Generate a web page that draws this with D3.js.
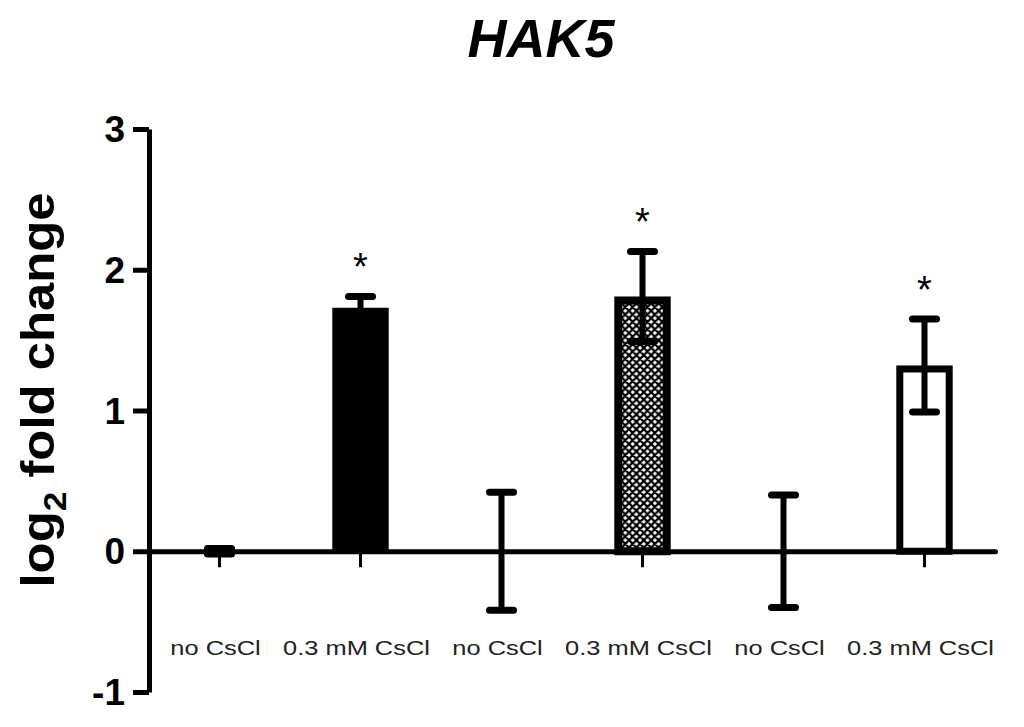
<!DOCTYPE html>
<html>
<head>
<meta charset="utf-8">
<script src="https://cdn.jsdelivr.net/npm/d3@7"></script>
<style>
  html, body { margin: 0; padding: 0; background: #fff; }
  svg { display: block; }
</style>
</head>
<body>
<svg id="chart" width="1024" height="727"></svg>
<script>
// ---- data ----
const categories = ["no CsCl", "0.3 mM CsCl", "no CsCl", "0.3 mM CsCl", "no CsCl", "0.3 mM CsCl"];
const means = [0, 1.73, 0, 1.81, 0, 1.32];
const sems = [0.02, 0.08, 0.42, 0.32, 0.40, 0.33];
const significant = [false, true, false, true, false, true];
const yTicks = [-1, 0, 1, 2, 3];
const titleText = "HAK5";

// ---- styles (separate from data) ----
const barStyles = ["none", "solid", "none", "hatch", "none", "open"];

const svg = d3.select("#chart");
const font = "Liberation Sans, Arial, sans-serif";

const x = d3.scaleBand().domain(d3.range(categories.length)).range([149, 995]).paddingInner(0.6).paddingOuter(0.3);
const y = d3.scaleLinear().domain([-1, 3]).range([692, 129]);

// hatch pattern
const defs = svg.append("defs");
const P = 7.4;
const pat = defs.append("pattern").attr("id", "hatch").attr("patternUnits", "userSpaceOnUse")
  .attr("width", P).attr("height", P);
pat.append("rect").attr("width", P).attr("height", P).attr("fill", "#fff");
pat.append("path")
  .attr("d", `M${-P},0 L0,${-P} M0,${P} L${P},0 M${P},${2*P} L${2*P},${P} M${-P},${P} L0,${2*P} M0,0 L${P},${P} M${P},${-P} L${2*P},0`)
  .attr("stroke", "#000").attr("stroke-width", 2.2);

// title
svg.append("text").attr("x", 541).attr("y", 57).attr("text-anchor", "middle")
  .attr("font-family", font).attr("font-weight", "bold").attr("font-style", "italic")
  .attr("font-size", 54).attr("fill", "#000").text(titleText);

// y axis label
const yl = svg.append("text").attr("transform", "translate(54,390) rotate(-90)")
  .attr("text-anchor", "middle").attr("font-family", font).attr("font-weight", "bold")
  .attr("font-size", 46).attr("fill", "#000")
  .attr("textLength", 395).attr("lengthAdjust", "spacingAndGlyphs");
yl.append("tspan").text("log");
yl.append("tspan").attr("font-size", 32).attr("dy", 12).text("2");
yl.append("tspan").attr("dy", -12).text(" fold change");

const bw = x.bandwidth();
const cx = i => x(i) + bw / 2;

// bars
categories.forEach((c, i) => {
  const st = barStyles[i];
  if (st === "none" || means[i] === 0) return;
  const top = y(means[i]), base = y(0);
  if (st === "solid") {
    svg.append("rect").attr("x", x(i)).attr("y", top).attr("width", bw).attr("height", base - top)
      .attr("fill", "#000");
  } else {
    const sw = st === "hatch" ? 8 : 7;
    svg.append("rect").attr("x", x(i) + sw / 2).attr("y", top + sw / 2)
      .attr("width", bw - sw).attr("height", base - top - sw / 2)
      .attr("fill", st === "hatch" ? "url(#hatch)" : "#fff")
      .attr("stroke", "#000").attr("stroke-width", sw);
  }
});

// x axis
const xAxis = d3.axisBottom(x).tickSize(16).tickSizeOuter(0).tickFormat("");
const gx = svg.append("g").attr("transform", `translate(0,${y(0)})`).call(xAxis);
gx.select(".domain").attr("stroke", "#000").attr("stroke-width", 5).attr("stroke-linecap", "round");
gx.selectAll(".tick line").attr("stroke", "#000").attr("stroke-width", 3);

// y axis
const yAxis = d3.axisLeft(y).tickValues(yTicks).tickSize(16).tickSizeOuter(0).tickFormat("");
const gy = svg.append("g").attr("transform", "translate(149,0)").call(yAxis);
gy.select(".domain").attr("stroke", "#000").attr("stroke-width", 5);
gy.selectAll(".tick line").attr("stroke", "#000").attr("stroke-width", 5);

// y tick labels
yTicks.forEach(t => {
  svg.append("text").attr("x", 125).attr("y", y(t) + 13)
    .attr("text-anchor", "end").attr("font-family", font).attr("font-weight", "bold")
    .attr("font-size", 37).attr("fill", "#000").text(t);
});

// x labels
categories.forEach((c, i) => {
  svg.append("text").attr("transform", `translate(${cx(i) - 4},655) scale(1.27,1)`)
    .attr("text-anchor", "middle").attr("font-family", font)
    .attr("font-size", 20).attr("fill", "#222").text(c);
});

// error bars
categories.forEach((c, i) => {
  const hi = y(means[i] + sems[i]), lo = y(means[i] - sems[i]);
  const g = svg.append("g").attr("stroke", "#000");
  g.append("line").attr("x1", cx(i)).attr("x2", cx(i)).attr("y1", hi).attr("y2", lo).attr("stroke-width", 6);
  [hi, lo].forEach(yy => {
    g.append("line").attr("x1", cx(i) - 12).attr("x2", cx(i) + 12).attr("y1", yy).attr("y2", yy)
      .attr("stroke-width", 7).attr("stroke-linecap", "round");
  });
  if (significant[i]) {
    svg.append("text").attr("x", cx(i)).attr("y", hi - 38 + 22).attr("text-anchor", "middle")
      .attr("font-family", font).attr("font-size", 38).attr("fill", "#000").text("*");
  }
});
</script>
</body>
</html>
